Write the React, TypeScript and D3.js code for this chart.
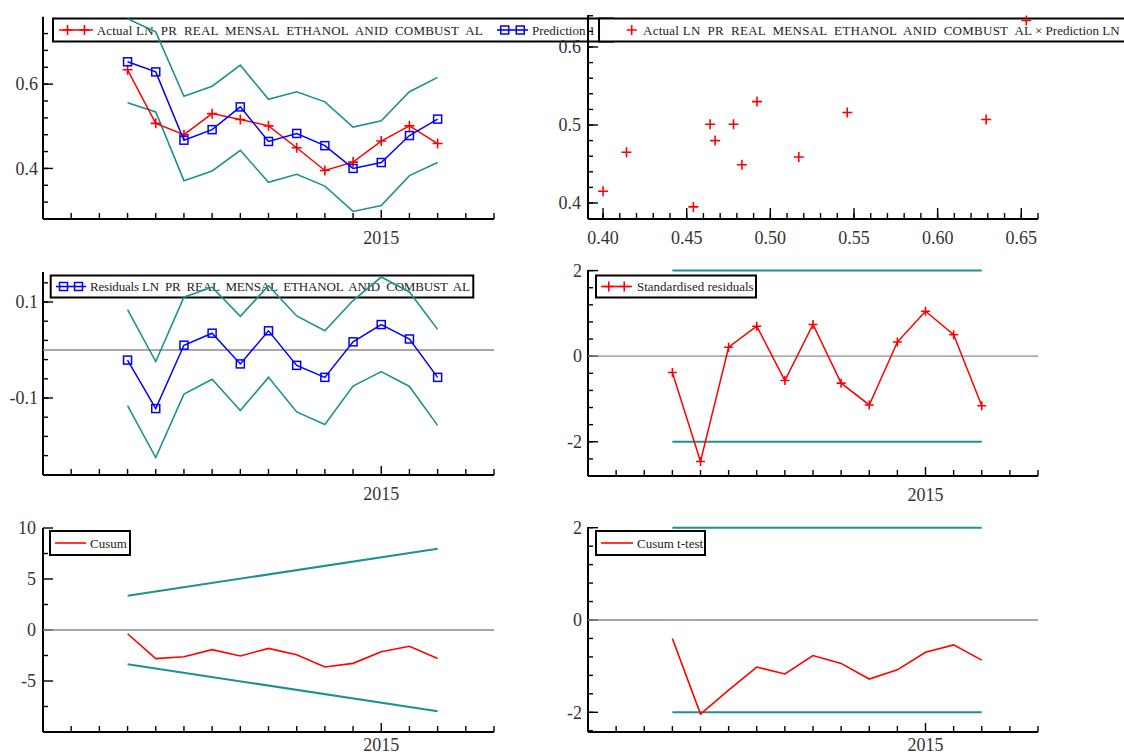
import React from 'react';
import * as d3 from 'd3';

// ---------- data ----------
const periods = ['2014-04', '2014-05', '2014-06', '2014-07', '2014-08', '2014-09', '2014-10', '2014-11', '2014-12', '2015-01', '2015-02', '2015-03'];
const actual = [0.634, 0.507, 0.48, 0.53, 0.516, 0.501, 0.449, 0.395, 0.415, 0.465, 0.501, 0.459];
const predicted = [0.653, 0.629, 0.467, 0.492, 0.546, 0.464, 0.483, 0.454, 0.4, 0.414, 0.478, 0.517];
const predUpper = [0.755, 0.724, 0.571, 0.595, 0.645, 0.564, 0.582, 0.558, 0.498, 0.513, 0.582, 0.616];
const predLower = [0.556, 0.534, 0.371, 0.394, 0.443, 0.367, 0.386, 0.358, 0.298, 0.312, 0.383, 0.414];
const residuals = [-0.021, -0.122, 0.01, 0.035, -0.029, 0.04, -0.032, -0.057, 0.017, 0.053, 0.023, -0.057];
const residUpper = [0.084, -0.024, 0.11, 0.131, 0.07, 0.134, 0.071, 0.04, 0.103, 0.152, 0.121, 0.043];
const residLower = [-0.116, -0.224, -0.092, -0.061, -0.126, -0.057, -0.129, -0.155, -0.075, -0.045, -0.076, -0.157];
const stdResid = [-0.38, -2.46, 0.21, 0.7, -0.57, 0.74, -0.63, -1.14, 0.33, 1.05, 0.5, -1.16];
const stdBounds = [2, -2];
const cusum = [-0.37, -2.8, -2.63, -1.93, -2.55, -1.8, -2.43, -3.62, -3.27, -2.13, -1.6, -2.8];
const cusumBound = [3.35, 7.97]; // first and last period (straight line)
const cusumT = [-0.4, -2.04, -1.52, -1.02, -1.17, -0.77, -0.94, -1.28, -1.08, -0.7, -0.54, -0.87];
const cusumTBounds = [2, -2];

const axisStart = '2014-01';
const axisEnd = '2015-05';
const yearLabel = '2015';
const yearTick = '2015-01';

const tlYLabels = [0.4, 0.6];
const mlYLabels = [0.1, -0.1];
const blYLabels = [10, 5, 0, -5];
const scXLabels = [0.4, 0.45, 0.5, 0.55, 0.6, 0.65];
const scYLabels = [0.4, 0.5, 0.6];
const mrYLabels = [2, 0, -2];
const brYLabels = [2, 0, -2];

const depName = 'LN  PR  REAL  MENSAL  ETHANOL  ANID  COMBUST  AL';
const scatterTail = '× Prediction LN';

// ---------- styles ----------
const FONT = "'Liberation Serif', 'Times New Roman', serif";
const TEAL = '#1b928e';
const RED = '#ff0000';
const BLUE = '#0000ff';
const GREY = '#8a8a8a';

function monthIndex(p: string) {
  const [y, m] = p.split('-').map(Number);
  return y * 12 + (m - 1);
}
const base = monthIndex(axisStart);
const idx = periods.map((p) => monthIndex(p) - base);
const nAxis = monthIndex(axisEnd) - base;
const yearIdx = monthIndex(yearTick) - base;

const xL = d3.scaleLinear().domain([0, nAxis]).range([43, 494]);
const xR = d3.scaleLinear().domain([0, nAxis]).range([588, 1038]);

const yTL = d3.scaleLinear().domain([0.28, 0.76]).range([219, 16.7]);
const yML = d3.scaleLinear().domain([-0.2604, 0.1625]).range([475, 272]);
const yBL = d3.scaleLinear().domain([-10, 10]).range([732, 528]);
const xS = d3.scaleLinear().domain([0.391, 0.66]).range([588, 1038]);
const yS = d3.scaleLinear().domain([0.3795, 0.641]).range([219, 15]);
const yMR = d3.scaleLinear().domain([-2.8, 2.014]).range([476, 270]);
const yBR = d3.scaleLinear().domain([-2.427, 2.015]).range([732, 527]);

const minorTicks = (from: number, to: number, step: number) =>
  d3.range(Math.round((to - from) / step) + 1).map((i) => from + i * step);

function pathOf(xs: d3.ScaleLinear<number, number>, ys: d3.ScaleLinear<number, number>, values: number[]) {
  return (
    d3
      .line<number>()
      .x((_, i) => xs(idx[i]))
      .y((d) => ys(d))(values) || ''
  );
}

function Cross({ x, y, s = 5, color = RED }: { x: number; y: number; s?: number; color?: string }) {
  return <path d={`M${x - s},${y}H${x + s}M${x},${y - s}V${y + s}`} stroke={color} strokeWidth={1.6} fill="none" />;
}
function Square({ x, y, s = 4 }: { x: number; y: number; s?: number }) {
  return <rect x={x - s} y={y - s} width={2 * s} height={2 * s} stroke={BLUE} strokeWidth={1.5} fill="none" />;
}

function YAxis({
  x,
  scale,
  top,
  bottom,
  labels,
  minors,
  fmt,
  gap = 5,
}: {
  x: number;
  scale: d3.ScaleLinear<number, number>;
  top: number;
  bottom: number;
  labels: number[];
  minors: number[];
  fmt: (v: number) => string;
  gap?: number;
}) {
  return (
    <g>
      <line x1={x} x2={x} y1={top} y2={bottom} stroke="#000" strokeWidth={2} />
      {minors.map((v, i) => (
        <line key={'m' + i} x1={x} x2={x + 5} y1={scale(v)} y2={scale(v)} stroke="#000" strokeWidth={1.4} />
      ))}
      {labels.map((v, i) => (
        <g key={'l' + i}>
          <line x1={x} x2={x + 10} y1={scale(v)} y2={scale(v)} stroke="#000" strokeWidth={1.4} />
          <text x={x - gap} y={scale(v)} dy="0.35em" textAnchor="end" fontFamily={FONT} fontSize={18} fill="#333">
            {fmt(v)}
          </text>
        </g>
      ))}
    </g>
  );
}

function TimeXAxis({ scale, y }: { scale: d3.ScaleLinear<number, number>; y: number }) {
  const ticks = d3.range(1, nAxis + 1);
  return (
    <g>
      <line x1={scale(0)} x2={scale(nAxis)} y1={y} y2={y} stroke="#000" strokeWidth={2} />
      {ticks.map((t) => (
        <line key={t} x1={scale(t)} x2={scale(t)} y1={y} y2={y - (t === yearIdx ? 9 : 6)} stroke="#000" strokeWidth={1.4} />
      ))}
      <text x={scale(yearIdx)} y={Math.min(y + 25, 751)} textAnchor="middle" fontFamily={FONT} fontSize={18} fill="#333">
        {yearLabel}
      </text>
    </g>
  );
}

function ZeroLine({ xs, ys }: { xs: d3.ScaleLinear<number, number>; ys: d3.ScaleLinear<number, number> }) {
  return <line x1={xs(0)} x2={xs(nAxis)} y1={ys(0)} y2={ys(0)} stroke={GREY} strokeWidth={1.3} />;
}

function LegendLine({ x1, x2, y, color, marker }: { x1: number; x2: number; y: number; color: string; marker?: 'cross' | 'square' }) {
  const a = x1 + (x2 - x1) * 0.25;
  const b = x1 + (x2 - x1) * 0.75;
  return (
    <g>
      <line x1={x1} x2={x2} y1={y} y2={y} stroke={color} strokeWidth={1.6} />
      {marker === 'cross' && (
        <>
          <Cross x={a} y={y} color={color} />
          <Cross x={b} y={y} color={color} />
        </>
      )}
      {marker === 'square' && (
        <>
          <Square x={a} y={y} />
          <Square x={b} y={y} />
        </>
      )}
    </g>
  );
}

const txtStyle: React.CSSProperties = { whiteSpace: 'pre' };

export default function App() {
  const f1 = (v: number) => (v < 0 ? '-' : '') + Math.abs(v).toFixed(1);
  const f2 = (v: number) => v.toFixed(2);
  const f0 = (v: number) => (v < 0 ? '-' : '') + String(Math.abs(v));

  const i0 = idx[0];
  const iN = idx[idx.length - 1];

  return (
    <svg
      width={1124}
      height={756}
      style={{ position: 'absolute', left: 0, top: 0, display: 'block', background: '#fff' }}
      fontFamily={FONT}
    >
      <rect x={0} y={0} width={1124} height={756} fill="#fff" />

      {/* ===== Top-left: actual and fitted ===== */}
      <g>
        <rect x={53} y={18.5} width={560} height={23} fill="none" stroke="#000" strokeWidth={2} />
        <LegendLine x1={59} x2={93} y={30} color={RED} marker="cross" />
        <text x={96.7} y={34.5} fontSize={13} textLength={386} lengthAdjust="spacing" style={txtStyle} fill="#222">
          {'Actual ' + depName}
        </text>
        <LegendLine x1={497} x2={528} y={30} color={BLUE} marker="square" />
        <text x={532} y={34.5} fontSize={13} style={txtStyle} fill="#222">
          {'Prediction 1'}
        </text>

        <YAxis x={43} scale={yTL} top={16.7} bottom={219} labels={tlYLabels} minors={minorTicks(0.32, 0.72, 0.04)} fmt={f1} />
        <TimeXAxis scale={xL} y={219} />
        <path d={pathOf(xL, yTL, predUpper)} stroke={TEAL} strokeWidth={1.6} fill="none" />
        <path d={pathOf(xL, yTL, predLower)} stroke={TEAL} strokeWidth={1.6} fill="none" />
        <path d={pathOf(xL, yTL, actual)} stroke={RED} strokeWidth={1.5} fill="none" />
        {actual.map((v, i) => (
          <Cross key={i} x={xL(idx[i])} y={yTL(v)} />
        ))}
        <path d={pathOf(xL, yTL, predicted)} stroke={BLUE} strokeWidth={1.5} fill="none" />
        {predicted.map((v, i) => (
          <Square key={i} x={xL(idx[i])} y={yTL(v)} />
        ))}
      </g>

      {/* ===== Top-right: scatter ===== */}
      <g>
        <rect x={599} y={18.5} width={540} height={23} fill="#fff" stroke="#000" strokeWidth={2} />
        <Cross x={631.7} y={30} />
        <text x={643} y={34.5} fontSize={13} textLength={389} lengthAdjust="spacing" style={txtStyle} fill="#222">
          {'Actual ' + depName}
        </text>
        <text x={1035} y={34.5} fontSize={13} style={txtStyle} fill="#222">
          {scatterTail}
        </text>

        <YAxis x={588} scale={yS} top={15} bottom={219} labels={scYLabels} minors={minorTicks(0.38, 0.64, 0.02)} fmt={f1} gap={7} />
        <line x1={588} x2={1038} y1={219} y2={219} stroke="#000" strokeWidth={2} />
        {minorTicks(0.4, 0.66, 0.01).map((v, i) => (
          <line key={i} x1={xS(v)} x2={xS(v)} y1={219} y2={213} stroke="#000" strokeWidth={1.4} />
        ))}
        {scXLabels.map((v, i) => (
          <g key={i}>
            <line x1={xS(v)} x2={xS(v)} y1={219} y2={208} stroke="#000" strokeWidth={1.4} />
            <text x={xS(v)} y={244} textAnchor="middle" fontSize={18} fill="#333">
              {f2(v)}
            </text>
          </g>
        ))}
        {actual.map((v, i) => (
          <Cross key={i} x={xS(predicted[i])} y={yS(v)} />
        ))}
      </g>

      {/* ===== Middle-left: residuals ===== */}
      <g>
        <rect x={50.7} y={275.5} width={422.6} height={22} fill="none" stroke="#000" strokeWidth={2} />
        <LegendLine x1={56} x2={86} y={286.5} color={BLUE} marker="square" />
        <text x={90} y={291} fontSize={13} textLength={380} lengthAdjust="spacing" style={txtStyle} fill="#222">
          {'Residuals ' + depName}
        </text>
        <YAxis x={43} scale={yML} top={272} bottom={475} labels={mlYLabels} minors={minorTicks(-0.22, 0.14, 0.04)} fmt={f1} />
        <TimeXAxis scale={xL} y={475} />
        <ZeroLine xs={xL} ys={yML} />
        <path d={pathOf(xL, yML, residUpper)} stroke={TEAL} strokeWidth={1.6} fill="none" />
        <path d={pathOf(xL, yML, residLower)} stroke={TEAL} strokeWidth={1.6} fill="none" />
        <path d={pathOf(xL, yML, residuals)} stroke={BLUE} strokeWidth={1.5} fill="none" />
        {residuals.map((v, i) => (
          <Square key={i} x={xL(idx[i])} y={yML(v)} />
        ))}
      </g>

      {/* ===== Middle-right: standardised residuals ===== */}
      <g>
        <YAxis x={588} scale={yMR} top={270} bottom={476} labels={mrYLabels} minors={minorTicks(-2.4, 2, 0.4)} fmt={f0} gap={6} />
        <TimeXAxis scale={xR} y={476} />
        <ZeroLine xs={xR} ys={yMR} />
        {stdBounds.map((b, j) => (
          <line key={j} x1={xR(i0)} x2={xR(iN)} y1={yMR(b)} y2={yMR(b)} stroke={TEAL} strokeWidth={2} />
        ))}
        <path d={pathOf(xR, yMR, stdResid)} stroke={RED} strokeWidth={1.5} fill="none" />
        {stdResid.map((v, i) => (
          <Cross key={i} x={xR(idx[i])} y={yMR(v)} s={4.5} />
        ))}
        <rect x={596} y={275.5} width={160} height={22} fill="#fff" stroke="#000" strokeWidth={2} />
        <LegendLine x1={601} x2={632} y={286.5} color={RED} marker="cross" />
        <text x={637} y={291} fontSize={13} style={txtStyle} fill="#222">
          {'Standardised residuals'}
        </text>
      </g>

      {/* ===== Bottom-left: CUSUM ===== */}
      <g>
        <YAxis x={43} scale={yBL} top={528} bottom={732} labels={blYLabels} minors={[7.5, 2.5, -2.5, -7.5]} fmt={f0} gap={7} />
        <TimeXAxis scale={xL} y={732} />
        <ZeroLine xs={xL} ys={yBL} />
        {[1, -1].map((sg) => (
          <line
            key={sg}
            x1={xL(i0)}
            x2={xL(iN)}
            y1={yBL(sg * cusumBound[0])}
            y2={yBL(sg * cusumBound[1])}
            stroke={TEAL}
            strokeWidth={2}
          />
        ))}
        <path d={pathOf(xL, yBL, cusum)} stroke={RED} strokeWidth={1.6} fill="none" />
        <rect x={50} y={531} width={80} height={24} fill="#fff" stroke="#000" strokeWidth={2} />
        <LegendLine x1={55} x2={86} y={543} color={RED} />
        <text x={90} y={547.5} fontSize={13} style={txtStyle} fill="#222">
          {'Cusum'}
        </text>
      </g>

      {/* ===== Bottom-right: CUSUM t-test ===== */}
      <g>
        <YAxis x={588} scale={yBR} top={527} bottom={732} labels={brYLabels} minors={minorTicks(-2.4, 2, 0.4)} fmt={f0} gap={6} />
        <TimeXAxis scale={xR} y={732} />
        <ZeroLine xs={xR} ys={yBR} />
        {cusumTBounds.map((b, j) => (
          <line key={j} x1={xR(i0)} x2={xR(iN)} y1={yBR(b)} y2={yBR(b)} stroke={TEAL} strokeWidth={2} />
        ))}
        <path d={pathOf(xR, yBR, cusumT)} stroke={RED} strokeWidth={1.6} fill="none" />
        <rect x={596} y={531} width={109} height={24} fill="#fff" stroke="#000" strokeWidth={2} />
        <LegendLine x1={601} x2={633} y={543} color={RED} />
        <text x={637} y={547.5} fontSize={13} style={txtStyle} fill="#222">
          {'Cusum t-test'}
        </text>
      </g>
    </svg>
  );
}
